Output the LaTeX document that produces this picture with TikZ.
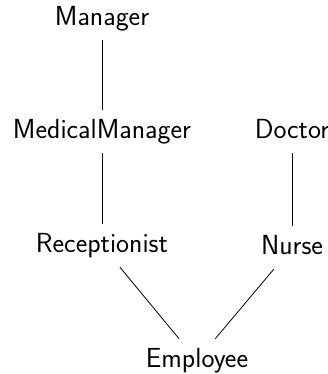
\documentclass[tikz,border=0pt]{standalone}
\usepackage{tikz}
\begin{document}
\begin{tikzpicture}[x=1bp,y=-1bp,
  cls/.style={anchor=base, inner xsep=10bp, inner ysep=10bp,
    text height=18bp, text depth=5bp,
    font=\fontsize{27.6bp}{32bp}\selectfont\sffamily},
  link/.style={line width=0.8bp}]
  \useasboundingbox (0,0) rectangle (328,374);
  % class nodes, placed by their baselines
  \node[cls] (manager)  at (102,25)  {Manager};
  \node[cls] (medmgr)   at (102,138) {MedicalManager};
  \node[cls] (doctor)   at (292,138) {Doctor};
  \node[cls] (recept)   at (102,252) {Receptionist};
  \node[cls] (nurse)    at (292,254) {Nurse};
  \node[cls] (employee) at (197,367) {Employee};
  % hierarchy links
  \draw[link] (manager) -- (medmgr);
  \draw[link] (medmgr) -- (recept);
  \draw[link] (doctor) -- (nurse);
  \draw[link] (recept) -- (employee);
  \draw[link] (nurse) -- (employee);
\end{tikzpicture}
\end{document}
